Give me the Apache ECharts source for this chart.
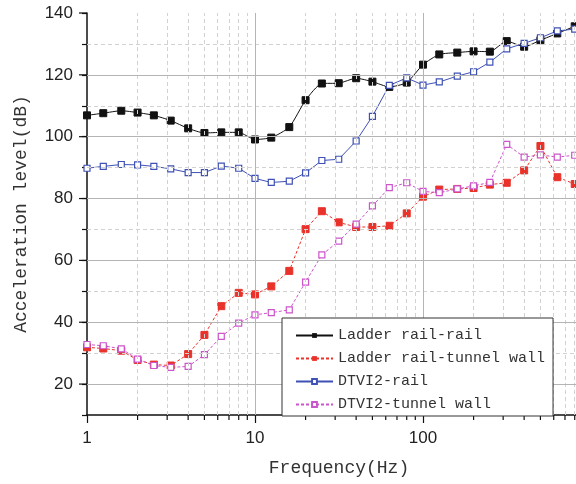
<!DOCTYPE html>
<html><head><meta charset="utf-8">
<script src="https://cdn.jsdelivr.net/npm/echarts@6/dist/echarts.min.js"></script>
<style>html,body{margin:0;padding:0;background:#fff}#c{width:576px;height:484px}</style>
</head><body><div id="c"></div>
<script>
const freqs = [1,1.25,1.6,2,2.5,3.15,4,5,6.3,8,10,12.5,16,20,25,31.5,40,50,63,80,100,125,160,200,250,315,400,500,630,800];
const ladderRail = [106.9,107.6,108.4,107.8,106.9,105.2,102.7,101.2,101.4,101.4,99.1,99.7,103.1,111.8,117.2,117.3,118.9,117.8,116.1,117.5,123.3,126.6,127.2,127.6,127.5,130.9,129.1,131.2,133.4,135.7];
const ladderTunnel = [31.9,31.5,30.8,27.8,26.3,26.0,29.7,35.9,45.2,49.5,49.0,51.6,56.6,70.1,75.9,72.3,70.8,70.8,71.2,75.2,80.6,82.9,83.1,83.4,84.5,85.1,89.1,97.0,86.9,84.7];
const dtviRail = [89.8,90.4,91.0,90.9,90.4,89.6,88.4,88.4,90.5,89.8,86.5,85.2,85.6,88.3,92.3,92.7,98.6,106.6,116.6,119.0,116.7,117.7,119.6,121.0,124.1,128.4,130.2,132.0,134.2,134.8];
const dtviTunnel = [32.8,32.4,31.4,28.1,26.0,25.4,25.7,29.5,35.4,39.7,42.4,43.1,44.0,53.0,61.8,66.2,71.7,77.6,83.5,85.1,82.3,81.9,83.1,84.1,85.2,97.5,93.4,94.1,93.4,94.0];
const seriesNames = ['Ladder rail-rail','Ladder rail-tunnel wall','DTVI2-rail','DTVI2-tunnel wall'];
const xMajor = [10,100];
const xMinor = [2,3,4,5,6,7,8,9,20,30,40,50,60,70,80,90,200,300,400,500,600,700,800,900];
const yMajor = [20,40,60,80,100,120];
const yMinor = [30,50,70,90,110,130];
const yMajorTicks = [20,40,60,80,100,120,140];

const pair = a => freqs.map((f,i)=>[f,a[i]]);
const gridSolid = {color:'#b4b4b4', width:1, type:'solid'};
const gridDash = {color:'#d2d2d2', width:1, type:[4,3]};
const mono = 'Liberation Mono';

const chart = echarts.init(document.getElementById('c'), null, {renderer:'canvas'});
chart.setOption({
  animation:false,
  backgroundColor:'#fff',
  grid:{left:87, top:13, width:504, height:402, containLabel:false, outerBoundsMode:'none'},
  xAxis:{type:'log', logBase:10, min:1, max:1000,
    name:'Frequency(Hz)', nameLocation:'middle', nameGap:44,
    nameTextStyle:{fontFamily:mono, fontSize:18, color:'#333'},
    axisLine:{show:true, lineStyle:{color:'#111', width:1.5}},
    axisTick:{show:true, inside:false, length:8, lineStyle:{color:'#111', width:1.2}},
    axisLabel:{fontFamily:'Liberation Sans', fontSize:17, color:'#222', margin:15,
      formatter:v=> (v>=1000?'':String(Math.round(v)))},
    splitLine:{show:false}, minorTick:{show:false}},
  yAxis:{type:'value', min:10, max:140, interval:10,
    name:'Acceleration level(dB)', nameLocation:'middle', nameGap:57,
    nameTextStyle:{fontFamily:mono, fontSize:18, color:'#333'},
    axisLine:{show:true, lineStyle:{color:'#111', width:1.5}},
    axisTick:{show:true, inside:false, length:5, lineStyle:{color:'#111', width:1.2}},
    axisLabel:{fontFamily:'Liberation Sans', fontSize:17, color:'#222', margin:14,
      formatter:v=> (v%20===0 ? String(v) : '')},
    splitLine:{show:false}},
  legend:{orient:'vertical', left:282, top:318, width:272, z:20,
    data:seriesNames, itemWidth:37, itemHeight:6, itemGap:8,
    padding:[10,8,4,13], backgroundColor:'#fff', borderColor:'#333', borderWidth:1,
    textStyle:{fontFamily:mono, fontSize:15, color:'#333', lineHeight:14}},
  series:[
    {type:'line', name:'_grid', data:[[1,10]], symbol:'none', lineStyle:{opacity:0}, z:1, silent:true,
      markLine:{silent:true, symbol:'none', label:{show:false}, animation:false,
        data:[].concat(
          xMinor.map(v=>({xAxis:v, lineStyle:gridDash})),
          yMinor.map(v=>({yAxis:v, lineStyle:gridDash})),
          xMajor.map(v=>({xAxis:v, lineStyle:gridSolid})),
          yMajor.map(v=>({yAxis:v, lineStyle:gridSolid}))
        )}},
    {type:'custom', name:'_xticks', data:xMinor.map(v=>[v]), clip:false, silent:true, z:5,
      renderItem:(params, api)=>{
        const p = api.coord([api.value(0), 10]);
        return {type:'line', shape:{x1:p[0], y1:p[1], x2:p[0], y2:p[1]+5}, style:{stroke:'#111', lineWidth:1.2}};
      }},
    {type:'custom', name:'_yticks', data:yMajorTicks.map(v=>[v]), clip:false, silent:true, z:5,
      renderItem:(params, api)=>{
        const p = api.coord([1, api.value(0)]);
        return {type:'line', shape:{x1:p[0], y1:p[1], x2:p[0]-8, y2:p[1]}, style:{stroke:'#111', lineWidth:1.2}};
      }},
    {type:'line', name:seriesNames[0], data:pair(ladderRail), z:4, smooth:0.2,
      symbol:'rect', symbolSize:7, itemStyle:{color:'#111', borderColor:'#111'},
      lineStyle:{color:'#111', width:1, type:'solid'}},
    {type:'line', name:seriesNames[1], data:pair(ladderTunnel), z:4,
      symbol:'rect', symbolSize:7, itemStyle:{color:'#e8322a', borderColor:'#e8322a'},
      lineStyle:{color:'#e8322a', width:1, type:[3,2]}},
    {type:'line', name:seriesNames[2], data:pair(dtviRail), z:4,
      symbol:'rect', symbolSize:6, itemStyle:{color:'#fff', borderColor:'#3f51b5', borderWidth:1.2},
      lineStyle:{color:'#3f51b5', width:1, type:'solid'}},
    {type:'line', name:seriesNames[3], data:pair(dtviTunnel), z:4,
      symbol:'rect', symbolSize:6, itemStyle:{color:'#fff', borderColor:'#cc55cc', borderWidth:1.2},
      lineStyle:{color:'#cc55cc', width:1, type:[3,2]}}
  ]
});
</script></body></html>
